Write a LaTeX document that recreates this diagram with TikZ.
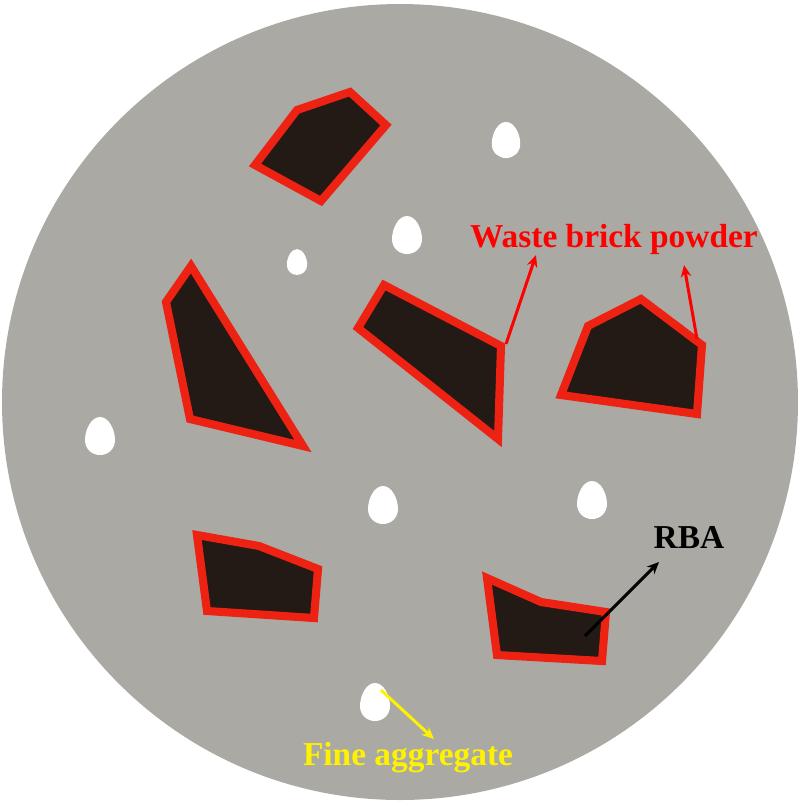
\documentclass[tikz,border=0pt]{standalone}
\usepackage{fontspec}
\setmainfont{Liberation Serif}
\usetikzlibrary{arrows.meta}

\definecolor{paste}{RGB}{170,169,164}
\definecolor{brickfill}{RGB}{35,25,21}
\definecolor{brickedge}{RGB}{238,34,18}

\tikzset{
    brick/.style={fill=brickfill, draw=brickedge, line width=2.3pt, line join=miter},
    label/.style={font=\fontsize{9.5}{11}\selectfont\bfseries, inner sep=0pt, anchor=base},
    pointer/.style={-{Stealth[length=3.4pt, width=3pt]}, line width=0.85pt}
}

\newcommand{\grain}[3]{%
    \fill [white, shift={(#1,#2)}, scale=#3]
        (0,-19) .. controls (9,-19) and (15,-6) .. (15,4)
        .. controls (15,13) and (8,19) .. (0,19)
        .. controls (-8,19) and (-15,13) .. (-15,4)
        .. controls (-15,-6) and (-9,-19) .. (0,-19) -- cycle;}

\begin{document}
\begin{tikzpicture}[x=0.01cm, y=-0.01cm]
    \useasboundingbox (0,0) rectangle (800,805);
    \fill [paste] (400,402) circle [radius=398];

    \draw [brick] (297,110) -- (350,92) -- (386,125) -- (321,201) -- (255,165) -- cycle;
    \draw [brick] (191,266) -- (166,302) -- (190,419) -- (303,446) -- cycle;
    \draw [brick] (384,285) -- (358,328) -- (498,439) -- (501,346) -- cycle;
    \draw [brick] (588,326) -- (641,299) -- (702,345) -- (697,414) -- (561,395) -- cycle;
    \draw [brick] (197,535) -- (259,546) -- (318,569) -- (314,618) -- (207,611) -- cycle;
    \draw [brick] (487,578) -- (541,602) -- (606,612) -- (602,661) -- (497,655) -- cycle;

    \grain{506}{140}{0.95}
    \grain{407}{235}{1}
    \grain{297}{262}{0.68}
    \grain{100}{436}{1}
    \grain{383}{505}{1}
    \grain{592}{500}{1}
    \grain{375}{702}{1}

    \node [label, text=red] (W) at (614,247) {Waste brick powder};
    \node [label, text=black] (R) at (689,548) {RBA};
    \node [label, text=yellow] (F) at (408,765) {Fine aggregate};

    \coordinate (A) at (506,344);
    \coordinate (B) at (536,255);
    \draw [pointer, color=red] (A) -- (B);
    \coordinate (C) at (697,339);
    \coordinate (D) at (684,265);
    \draw [pointer, color=red] (C) -- (D);
    \coordinate (E) at (585,636);
    \coordinate (G) at (659,562);
    \draw [pointer, color=black] (E) -- (G);
    \coordinate (H) at (381,690);
    \coordinate (K) at (434,739);
    \draw [pointer, color=yellow] (H) -- (K);
\end{tikzpicture}
\end{document}
